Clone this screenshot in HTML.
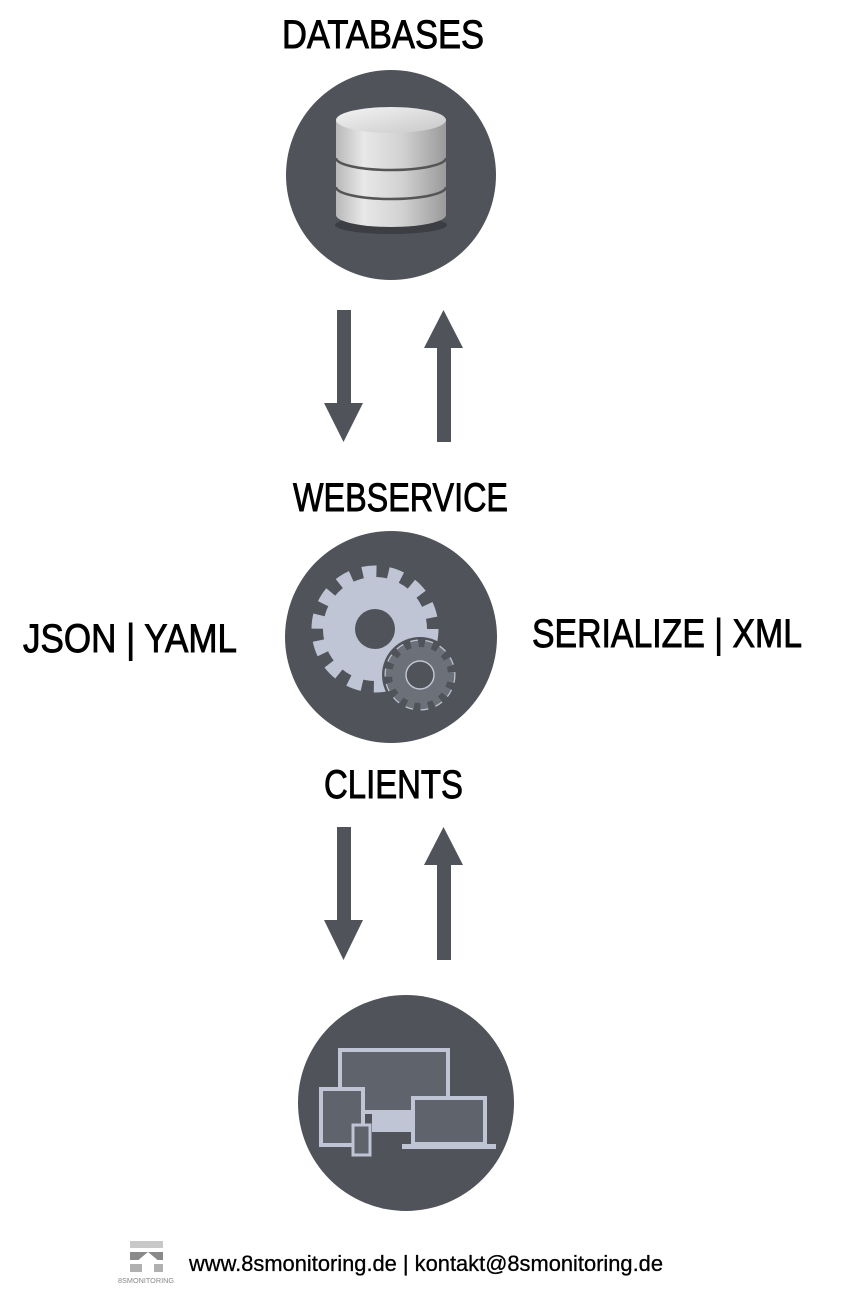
<!DOCTYPE html>
<html><head><meta charset="utf-8"><style>
html,body{margin:0;padding:0;background:#fff;width:843px;height:1290px;overflow:hidden}
</style></head><body>
<svg width="843" height="1290" viewBox="0 0 843 1290" xmlns="http://www.w3.org/2000/svg">
<defs>
<linearGradient id="cyl" x1="0" x2="1" y1="0" y2="0">
<stop offset="0" stop-color="#b8b8b8"/><stop offset="0.25" stop-color="#e8e8e8"/><stop offset="0.6" stop-color="#d2d2d2"/><stop offset="1" stop-color="#9a9a9a"/>
</linearGradient>
<linearGradient id="top" x1="0" x2="1" y1="0" y2="1">
<stop offset="0" stop-color="#f4f4f4"/><stop offset="1" stop-color="#c8c8c8"/>
</linearGradient>
</defs>
<g font-family="Liberation Sans, sans-serif" fill="#000" stroke="#000" stroke-width="0.9">
<text x="282" y="48" font-size="40" textLength="202" lengthAdjust="spacingAndGlyphs">DATABASES</text>
<text x="293" y="511" font-size="40" textLength="215" lengthAdjust="spacingAndGlyphs">WEBSERVICE</text>
<text x="23" y="652" font-size="40" textLength="214" lengthAdjust="spacingAndGlyphs">JSON | YAML</text>
<text x="532" y="647" font-size="40" textLength="270" lengthAdjust="spacingAndGlyphs">SERIALIZE | XML</text>
<text x="324" y="798" font-size="40" textLength="139" lengthAdjust="spacingAndGlyphs">CLIENTS</text>
<text x="189" y="1271" font-size="22" stroke-width="0.3" textLength="474" lengthAdjust="spacingAndGlyphs">www.8smonitoring.de | kontakt@8smonitoring.de</text>
</g>
<circle cx="391" cy="175" r="105" fill="#50535a"/>
<ellipse cx="391" cy="225" rx="56" ry="9" fill="#2e3035" opacity="0.6"/>
<path d="M336 120 V215 A55 12 0 0 0 446 215 V120 Z" fill="url(#cyl)"/>
<ellipse cx="391" cy="120" rx="55" ry="13" fill="url(#top)"/>
<path d="M336 158 A55 12 0 0 0 446 158" stroke="#555" stroke-width="2.5" fill="none"/>
<path d="M336 187 A55 12 0 0 0 446 187" stroke="#555" stroke-width="2.5" fill="none"/>
<g fill="#50535a">
<rect x="337" y="310" width="14" height="95"/><polygon points="324,403 363,403 343.5,442"/>
<rect x="437" y="345" width="14" height="97"/><polygon points="424,348 463,348 443.5,310"/>
<rect x="337" y="827" width="14" height="95"/><polygon points="324,920 363,920 343.5,960"/>
<rect x="437" y="862" width="14" height="98"/><polygon points="424,865 463,865 443.5,827"/>
</g>
<circle cx="391" cy="637" r="106" fill="#50535a"/>
<circle cx="375" cy="629" r="52" fill="#bfc5d4"/>
<circle cx="375" cy="629" r="57" fill="none" stroke="#bfc5d4" stroke-width="13" stroke-dasharray="13.8 11.8"/>
<circle cx="375" cy="629" r="20" fill="#50535a"/>
<circle cx="420" cy="675" r="38" fill="#50535a"/>
<circle cx="420" cy="675" r="31" fill="none" stroke="#bfc5d4" stroke-width="9" stroke-dasharray="7 6.7"/>
<circle cx="420" cy="675" r="31" fill="none" stroke="#6c7079" stroke-width="6.5" stroke-dasharray="7 6.7"/>
<circle cx="420" cy="675" r="28" fill="#6c7079"/>
<circle cx="420" cy="675" r="14" fill="#50535a" stroke="#bfc5d4" stroke-width="1.5"/>
<circle cx="406" cy="1103" r="108" fill="#50535a"/>
<rect x="340" y="1050" width="108" height="62" fill="#5f636b" stroke="#bfc5d4" stroke-width="4"/>
<rect x="372" y="1112" width="44" height="20" fill="#bfc5d4"/>
<rect x="321" y="1089" width="42" height="56" fill="#5f636b" stroke="#bfc5d4" stroke-width="4"/>
<rect x="353" y="1125" width="17" height="30" fill="#5f636b" stroke="#bfc5d4" stroke-width="3"/>
<rect x="413" y="1098" width="72" height="46" fill="#5f636b" stroke="#bfc5d4" stroke-width="4"/>
<rect x="402" y="1144" width="94" height="5" fill="#bfc5d4"/>
<g>
<rect x="130" y="1241" width="33" height="7" fill="#c8c8c8"/>
<rect x="130" y="1252" width="33" height="8" fill="#8a8a8a"/>
<rect x="130" y="1264" width="33" height="8" fill="#b0b0b0"/>
<polygon points="148,1252 160,1262 154,1262 154,1272 142,1272 142,1262 136,1262" fill="#fff"/>
<text x="118" y="1283" font-family="Liberation Sans, sans-serif" font-size="7" fill="#888" textLength="56" lengthAdjust="spacingAndGlyphs">8SMONITORING</text>
</g>
</svg>
</body></html>
